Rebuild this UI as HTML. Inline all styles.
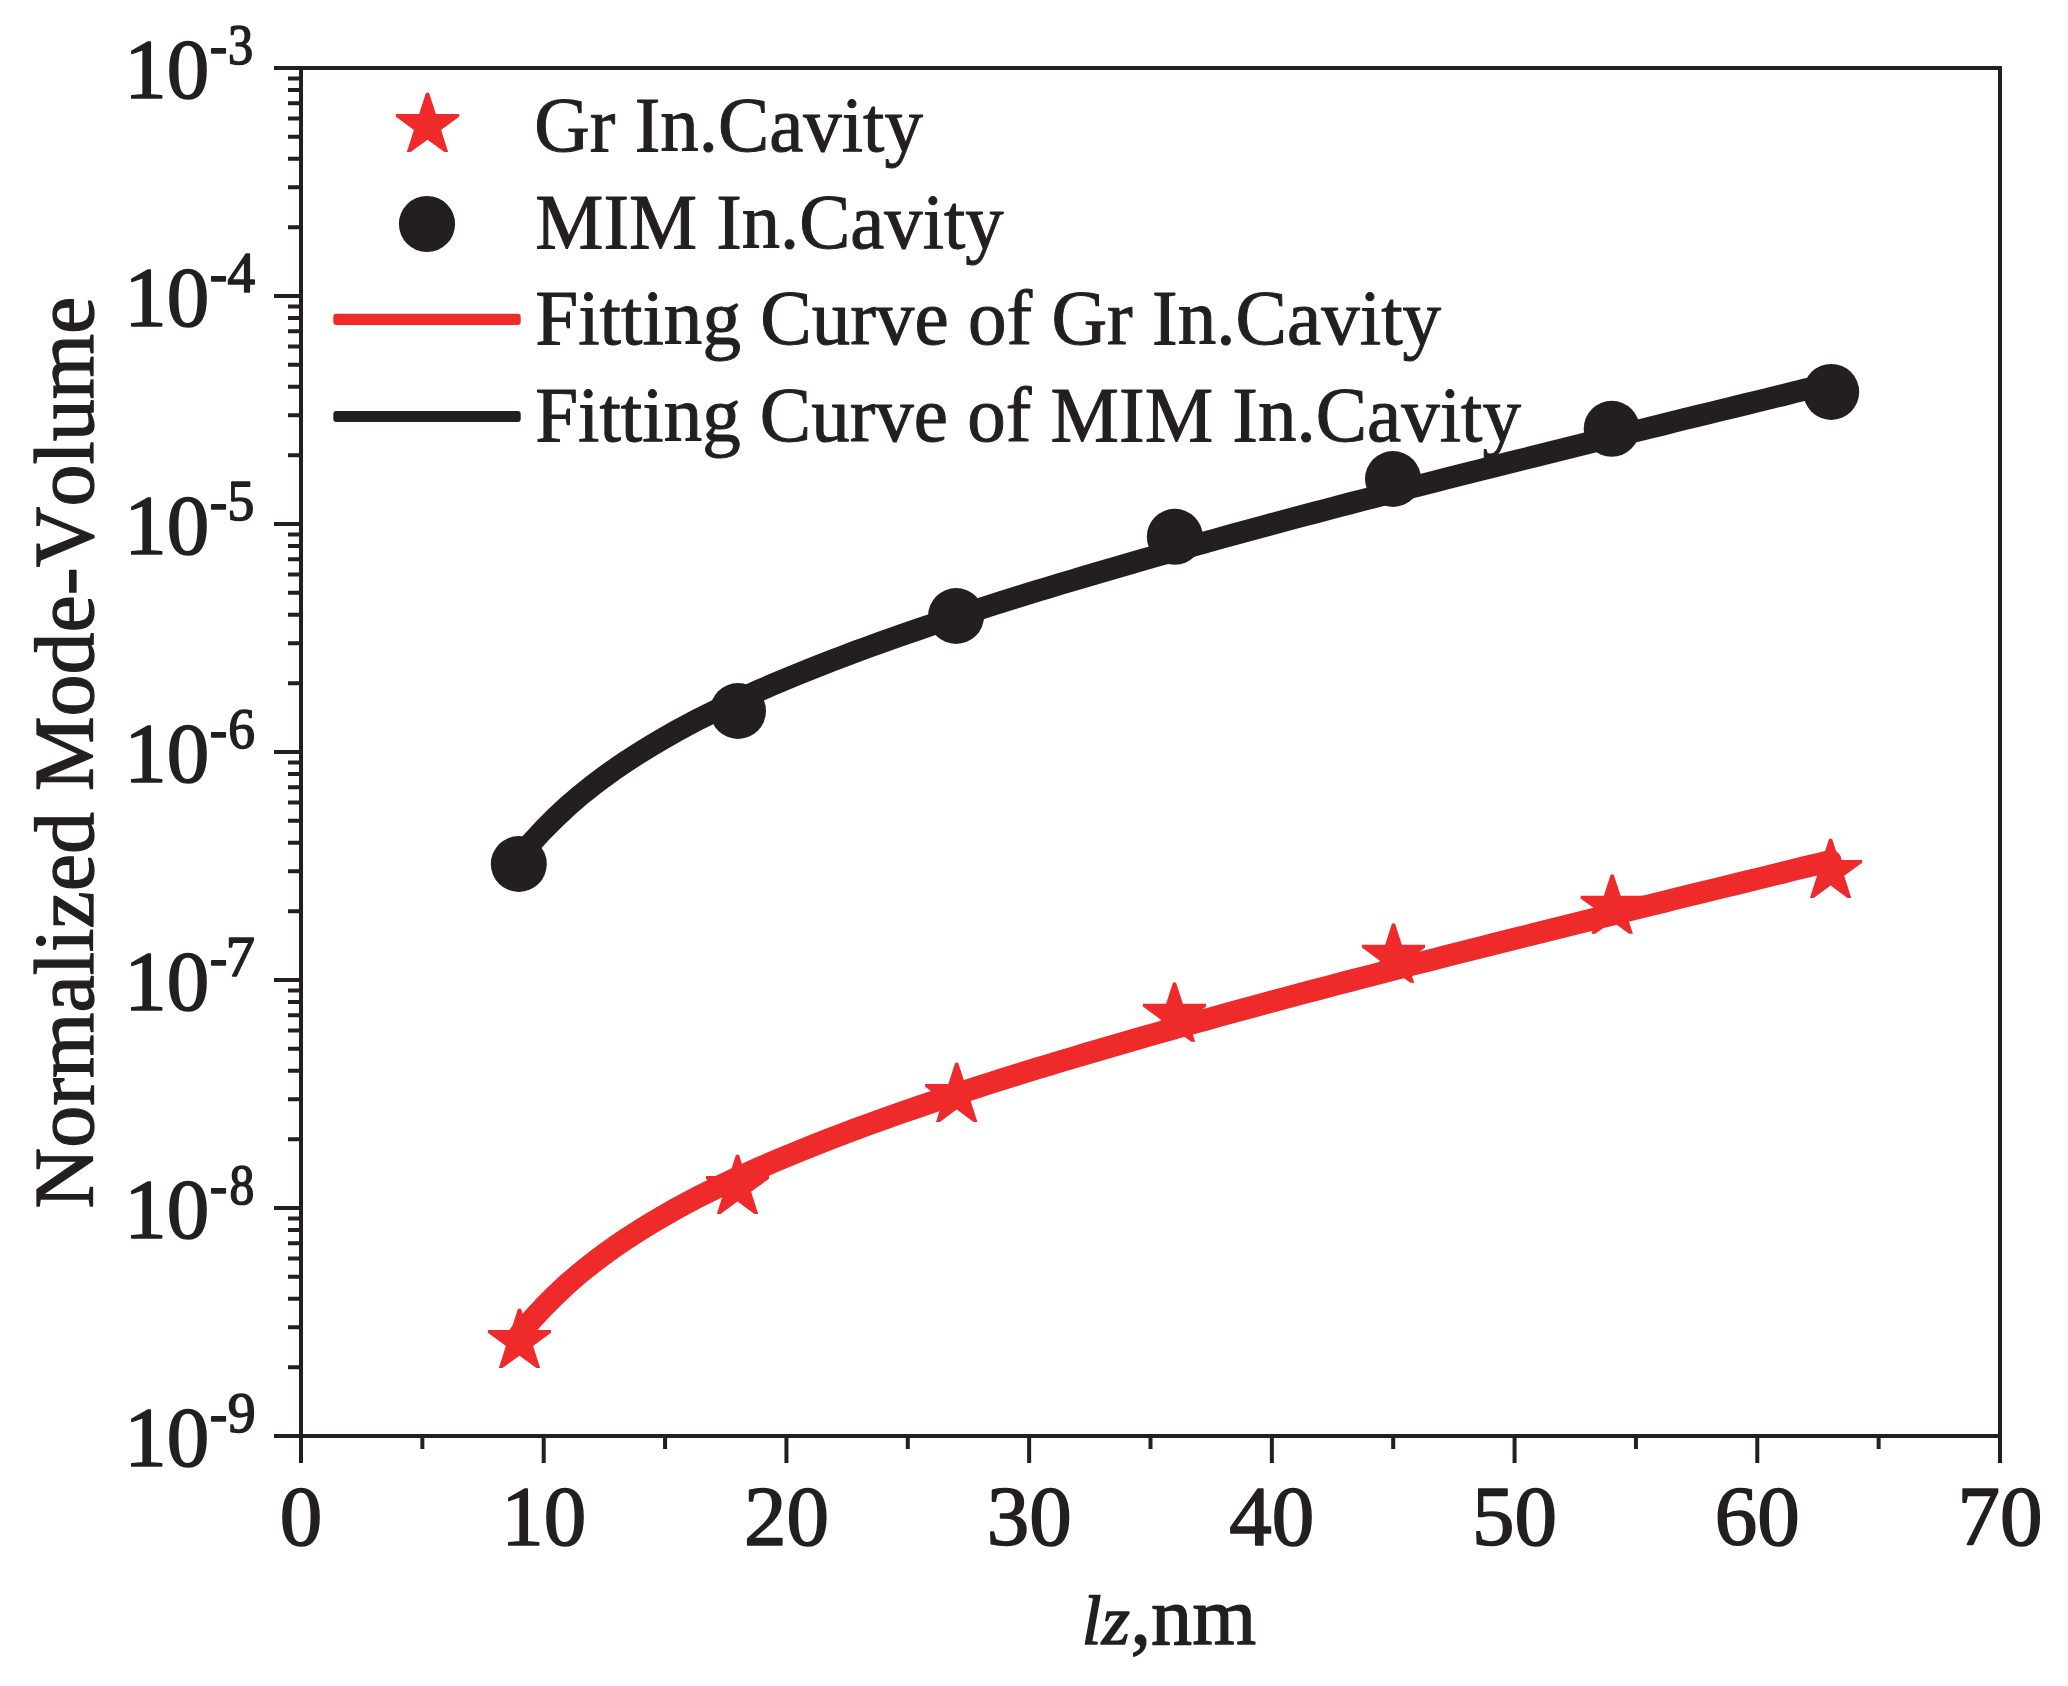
<!DOCTYPE html>
<html lang="en">
<head>
<meta charset="utf-8">
<title>Normalized Mode-Volume vs lz</title>
<style>
html,body{margin:0;padding:0;background:#fff;}
body{width:2068px;height:1686px;overflow:hidden;}
svg{display:block;position:absolute;left:0;top:0;}
text{font-family:"Liberation Serif",serif;fill:#231f20;stroke:#231f20;stroke-width:1.6px;stroke-linejoin:round;font-kerning:none;font-variant-ligatures:none;white-space:pre;}
</style>
</head>
<body>
<svg width="2068" height="1686" viewBox="0 0 2068 1686" role="img" aria-label="Normalized Mode-Volume versus lz (nm) for Gr In.Cavity and MIM In.Cavity with fitting curves">
<rect width="2068" height="1686" fill="#fff"/>

<g fill="none" stroke-width="22" stroke-linecap="round" stroke-linejoin="round">
<path stroke="#231f20" d="M519.4,857.0 L531.4,842.7 L543.5,829.6 L555.5,817.6 L567.5,806.4 L579.5,796.0 L591.6,786.3 L603.6,777.2 L615.6,768.6 L627.7,760.4 L639.7,752.7 L651.7,745.3 L663.8,738.2 L675.8,731.4 L687.8,724.9 L699.8,718.6 L711.9,712.6 L723.9,706.7 L735.9,701.0 L748.0,695.5 L760.0,690.1 L772.0,684.9 L784.0,679.8 L796.1,674.8 L808.1,670.0 L820.1,665.2 L832.2,660.5 L844.2,655.9 L856.2,651.4 L868.3,647.0 L880.3,642.6 L892.3,638.4 L904.3,634.1 L916.4,630.0 L928.4,625.9 L940.4,621.8 L952.5,617.8 L964.5,613.9 L976.5,610.0 L988.5,606.1 L1000.6,602.3 L1012.6,598.6 L1024.6,594.8 L1036.7,591.1 L1048.7,587.4 L1060.7,583.8 L1072.8,580.2 L1084.8,576.6 L1096.8,573.1 L1108.8,569.6 L1120.9,566.1 L1132.9,562.6 L1144.9,559.2 L1157.0,555.7 L1169.0,552.3 L1181.0,549.0 L1193.0,545.6 L1205.1,542.3 L1217.1,539.0 L1229.1,535.7 L1241.2,532.4 L1253.2,529.1 L1265.2,525.9 L1277.2,522.6 L1289.3,519.4 L1301.3,516.2 L1313.3,513.0 L1325.4,509.8 L1337.4,506.7 L1349.4,503.5 L1361.5,500.4 L1373.5,497.3 L1385.5,494.1 L1397.5,491.0 L1409.6,487.9 L1421.6,484.9 L1433.6,481.8 L1445.7,478.7 L1457.7,475.7 L1469.7,472.6 L1481.7,469.6 L1493.8,466.5 L1505.8,463.5 L1517.8,460.5 L1529.9,457.5 L1541.9,454.5 L1553.9,451.5 L1566.0,448.5 L1578.0,445.5 L1590.0,442.5 L1602.0,439.5 L1614.1,436.5 L1626.1,433.6 L1638.1,430.6 L1650.2,427.6 L1662.2,424.7 L1674.2,421.7 L1686.2,418.7 L1698.3,415.8 L1710.3,412.8 L1722.3,409.9 L1734.4,407.0 L1746.4,404.0 L1758.4,401.1 L1770.5,398.1 L1782.5,395.2 L1794.5,392.2 L1806.5,389.3 L1818.6,386.4 L1830.6,383.4"/>
<path stroke="#ee2a2b" d="M519.4,1334.5 L531.4,1320.2 L543.5,1307.1 L555.5,1295.1 L567.5,1283.9 L579.5,1273.5 L591.6,1263.8 L603.6,1254.7 L615.6,1246.1 L627.7,1237.9 L639.7,1230.2 L651.7,1222.8 L663.8,1215.7 L675.8,1208.9 L687.8,1202.4 L699.8,1196.1 L711.9,1190.1 L723.9,1184.2 L735.9,1178.5 L748.0,1173.0 L760.0,1167.6 L772.0,1162.4 L784.0,1157.3 L796.1,1152.3 L808.1,1147.5 L820.1,1142.7 L832.2,1138.0 L844.2,1133.4 L856.2,1128.9 L868.3,1124.5 L880.3,1120.1 L892.3,1115.9 L904.3,1111.6 L916.4,1107.5 L928.4,1103.4 L940.4,1099.3 L952.5,1095.3 L964.5,1091.4 L976.5,1087.5 L988.5,1083.6 L1000.6,1079.8 L1012.6,1076.1 L1024.6,1072.3 L1036.7,1068.6 L1048.7,1064.9 L1060.7,1061.3 L1072.8,1057.7 L1084.8,1054.1 L1096.8,1050.6 L1108.8,1047.1 L1120.9,1043.6 L1132.9,1040.1 L1144.9,1036.7 L1157.0,1033.2 L1169.0,1029.8 L1181.0,1026.5 L1193.0,1023.1 L1205.1,1019.8 L1217.1,1016.5 L1229.1,1013.2 L1241.2,1009.9 L1253.2,1006.6 L1265.2,1003.4 L1277.2,1000.1 L1289.3,996.9 L1301.3,993.7 L1313.3,990.5 L1325.4,987.3 L1337.4,984.2 L1349.4,981.0 L1361.5,977.9 L1373.5,974.8 L1385.5,971.6 L1397.5,968.5 L1409.6,965.4 L1421.6,962.4 L1433.6,959.3 L1445.7,956.2 L1457.7,953.2 L1469.7,950.1 L1481.7,947.1 L1493.8,944.0 L1505.8,941.0 L1517.8,938.0 L1529.9,935.0 L1541.9,932.0 L1553.9,929.0 L1566.0,926.0 L1578.0,923.0 L1590.0,920.0 L1602.0,917.0 L1614.1,914.0 L1626.1,911.1 L1638.1,908.1 L1650.2,905.1 L1662.2,902.2 L1674.2,899.2 L1686.2,896.2 L1698.3,893.3 L1710.3,890.3 L1722.3,887.4 L1734.4,884.5 L1746.4,881.5 L1758.4,878.6 L1770.5,875.6 L1782.5,872.7 L1794.5,869.7 L1806.5,866.8 L1818.6,863.9 L1830.6,860.9"/>
</g>
<g>
<circle cx="518.8" cy="864.0" r="28" fill="#231f20"/>
<circle cx="738.0" cy="711.0" r="28" fill="#231f20"/>
<circle cx="956.1" cy="616.0" r="28" fill="#231f20"/>
<circle cx="1174.8" cy="536.8" r="28" fill="#231f20"/>
<circle cx="1393.0" cy="479.0" r="28" fill="#231f20"/>
<circle cx="1611.7" cy="428.8" r="28" fill="#231f20"/>
<circle cx="1831.2" cy="391.9" r="28" fill="#231f20"/>
<polygon points="521.0,1308.8 527.9,1330.0 551.1,1330.0 551.1,1332.8 533.1,1345.9 540.2,1368.0 536.4,1368.0 519.5,1355.7 502.6,1368.0 498.8,1368.0 505.9,1345.9 487.9,1332.8 487.9,1330.0 511.1,1330.0 518.0,1308.8" fill="#ee2a2b"/>
<polygon points="739.0,1154.7 745.9,1175.9 769.1,1175.9 769.1,1178.7 751.1,1191.8 758.2,1213.9 754.4,1213.9 737.5,1201.6 720.6,1213.9 716.8,1213.9 723.9,1191.8 705.9,1178.7 705.9,1175.9 729.1,1175.9 736.0,1154.7" fill="#ee2a2b"/>
<polygon points="958.2,1062.7 965.1,1083.9 988.3,1083.9 988.3,1086.7 970.3,1099.8 977.4,1121.9 973.6,1121.9 956.7,1109.6 939.8,1121.9 936.0,1121.9 943.1,1099.8 925.1,1086.7 925.1,1083.9 948.3,1083.9 955.2,1062.7" fill="#ee2a2b"/>
<polygon points="1176.0,982.6 1182.9,1003.8 1206.1,1003.8 1206.1,1006.6 1188.1,1019.7 1195.2,1041.8 1191.4,1041.8 1174.5,1029.5 1157.6,1041.8 1153.8,1041.8 1160.9,1019.7 1142.9,1006.6 1142.9,1003.8 1166.1,1003.8 1173.0,982.6" fill="#ee2a2b"/>
<polygon points="1395.0,923.6 1401.9,944.8 1425.1,944.8 1425.1,947.6 1407.1,960.7 1414.2,982.8 1410.4,982.8 1393.5,970.5 1376.6,982.8 1372.8,982.8 1379.9,960.7 1361.9,947.6 1361.9,944.8 1385.1,944.8 1392.0,923.6" fill="#ee2a2b"/>
<polygon points="1613.7,874.5 1620.6,895.7 1643.8,895.7 1643.8,898.5 1625.8,911.6 1632.9,933.7 1629.1,933.7 1612.2,921.4 1595.3,933.7 1591.5,933.7 1598.6,911.6 1580.6,898.5 1580.6,895.7 1603.8,895.7 1610.7,874.5" fill="#ee2a2b"/>
<polygon points="1832.1,838.7 1839.0,859.9 1862.2,859.9 1862.2,862.7 1844.2,875.8 1851.3,897.9 1847.5,897.9 1830.6,885.6 1813.7,897.9 1809.9,897.9 1817.0,875.8 1799.0,862.7 1799.0,859.9 1822.2,859.9 1829.1,838.7" fill="#ee2a2b"/>
</g>
<g stroke="#231f20" stroke-width="4.0" fill="none" stroke-linecap="butt">
<path d="M274.0,68.0 H2002.0 M274.0,1436.0 H2000.0 M301.0,68.0 V1463.0 M2000.0,68.0 V1463.0"/>
<path d="M274.0,296.00 H301.0 M274.0,524.00 H301.0 M274.0,752.00 H301.0 M274.0,980.00 H301.0 M274.0,1208.00 H301.0 M288.0,227.37 H301.0 M288.0,187.22 H301.0 M288.0,158.73 H301.0 M288.0,136.63 H301.0 M288.0,118.58 H301.0 M288.0,103.32 H301.0 M288.0,90.10 H301.0 M288.0,78.43 H301.0 M288.0,455.37 H301.0 M288.0,415.22 H301.0 M288.0,386.73 H301.0 M288.0,364.63 H301.0 M288.0,346.58 H301.0 M288.0,331.32 H301.0 M288.0,318.10 H301.0 M288.0,306.43 H301.0 M288.0,683.37 H301.0 M288.0,643.22 H301.0 M288.0,614.73 H301.0 M288.0,592.63 H301.0 M288.0,574.58 H301.0 M288.0,559.32 H301.0 M288.0,546.10 H301.0 M288.0,534.43 H301.0 M288.0,911.37 H301.0 M288.0,871.22 H301.0 M288.0,842.73 H301.0 M288.0,820.63 H301.0 M288.0,802.58 H301.0 M288.0,787.32 H301.0 M288.0,774.10 H301.0 M288.0,762.43 H301.0 M288.0,1139.37 H301.0 M288.0,1099.22 H301.0 M288.0,1070.73 H301.0 M288.0,1048.63 H301.0 M288.0,1030.58 H301.0 M288.0,1015.32 H301.0 M288.0,1002.10 H301.0 M288.0,990.43 H301.0 M288.0,1367.37 H301.0 M288.0,1327.22 H301.0 M288.0,1298.73 H301.0 M288.0,1276.63 H301.0 M288.0,1258.58 H301.0 M288.0,1243.32 H301.0 M288.0,1230.10 H301.0 M288.0,1218.43 H301.0 M543.71,1436.0 V1463.0 M786.43,1436.0 V1463.0 M1029.14,1436.0 V1463.0 M1271.86,1436.0 V1463.0 M1514.57,1436.0 V1463.0 M1757.29,1436.0 V1463.0 M422.36,1436.0 V1449.0 M665.07,1436.0 V1449.0 M907.79,1436.0 V1449.0 M1150.50,1436.0 V1449.0 M1393.21,1436.0 V1449.0 M1635.93,1436.0 V1449.0 M1878.64,1436.0 V1449.0"/>
</g>
<g>
<text x="124.30" y="98.00" font-size="85">10<tspan x="209.64" y="64.25" font-size="57" textLength="17.50" lengthAdjust="spacingAndGlyphs">-</tspan><tspan x="228.10" y="64.25" font-size="57" textLength="25.17" lengthAdjust="spacingAndGlyphs">3</tspan></text>
<text x="124.30" y="326.00" font-size="85">10<tspan x="209.64" y="292.25" font-size="57" textLength="17.50" lengthAdjust="spacingAndGlyphs">-</tspan><tspan x="227.60" y="292.25" font-size="57" textLength="27.59" lengthAdjust="spacingAndGlyphs">4</tspan></text>
<text x="124.30" y="554.00" font-size="85">10<tspan x="209.64" y="520.25" font-size="57" textLength="17.50" lengthAdjust="spacingAndGlyphs">-</tspan><tspan x="227.54" y="520.25" font-size="57" textLength="26.81" lengthAdjust="spacingAndGlyphs">5</tspan></text>
<text x="124.30" y="782.00" font-size="85">10<tspan x="209.64" y="748.25" font-size="57" textLength="17.50" lengthAdjust="spacingAndGlyphs">-</tspan><tspan x="228.35" y="748.25" font-size="57" textLength="26.69" lengthAdjust="spacingAndGlyphs">6</tspan></text>
<text x="124.30" y="1010.00" font-size="85">10<tspan x="209.64" y="976.25" font-size="57" textLength="17.50" lengthAdjust="spacingAndGlyphs">-</tspan><tspan x="225.77" y="976.25" font-size="57" textLength="29.19" lengthAdjust="spacingAndGlyphs">7</tspan></text>
<text x="124.30" y="1238.00" font-size="85">10<tspan x="209.64" y="1204.25" font-size="57" textLength="17.50" lengthAdjust="spacingAndGlyphs">-</tspan><tspan x="229.61" y="1204.25" font-size="57" textLength="24.79" lengthAdjust="spacingAndGlyphs">8</tspan></text>
<text x="124.30" y="1466.00" font-size="85">10<tspan x="209.64" y="1432.25" font-size="57" textLength="17.50" lengthAdjust="spacingAndGlyphs">-</tspan><tspan x="227.79" y="1432.25" font-size="57" textLength="27.92" lengthAdjust="spacingAndGlyphs">9</tspan></text>
<text x="301.00" y="1544.50" font-size="85" text-anchor="middle">0</text>
<text x="543.71" y="1544.50" font-size="85" text-anchor="middle">10</text>
<text x="786.43" y="1544.50" font-size="85" text-anchor="middle">20</text>
<text x="1029.14" y="1544.50" font-size="85" text-anchor="middle">30</text>
<text x="1271.86" y="1544.50" font-size="85" text-anchor="middle">40</text>
<text x="1514.57" y="1544.50" font-size="85" text-anchor="middle">50</text>
<text x="1757.29" y="1544.50" font-size="85" text-anchor="middle">60</text>
<text x="2000.00" y="1544.50" font-size="85" text-anchor="middle">70</text>
</g>
<g>
<text style="stroke-width:1.3px"><tspan x="1081.63" y="1644.40" font-size="69" font-style="italic" textLength="48.34" lengthAdjust="spacingAndGlyphs">lz</tspan><tspan x="1130.51" y="1644.40" font-size="83" textLength="125.73" lengthAdjust="spacingAndGlyphs">,nm</tspan></text>
<text transform="translate(92.80,1208.48) rotate(-90) scale(0.9881,1)" font-size="85" style="stroke-width:1.3px">Normalized Mode-Volume</text>
</g>
<g>
<polygon points="429.0,92.8 435.9,114.0 459.1,114.0 459.1,116.8 441.1,129.9 448.2,152.0 444.4,152.0 427.5,139.7 410.6,152.0 406.8,152.0 413.9,129.9 395.9,116.8 395.9,114.0 419.1,114.0 426.0,92.8" fill="#ee2a2b"/>
<circle cx="427.0" cy="224.0" r="28.1" fill="#231f20"/>
<rect x="333.3" y="313.85" width="187.40" height="11.1" rx="3" fill="#ee2a2b"/>
<rect x="333.3" y="410.95" width="187.40" height="11.1" rx="3" fill="#231f20"/>
<text transform="translate(534.34,151.40) scale(0.9919,1)" font-size="77.5" style="stroke-width:1.0px">Gr In.Cavity</text>
<text transform="translate(535.29,247.80) scale(0.9889,1)" font-size="77.5" style="stroke-width:1.0px">MIM In.Cavity</text>
<text transform="translate(535.28,344.20) scale(0.9949,1)" font-size="77.5" style="stroke-width:1.0px">Fitting Curve of Gr In.Cavity</text>
<text transform="translate(535.28,440.60) scale(0.9934,1)" font-size="77.5" style="stroke-width:1.0px">Fitting Curve of MIM In.Cavity</text>
</g>
</svg>
</body>
</html>
